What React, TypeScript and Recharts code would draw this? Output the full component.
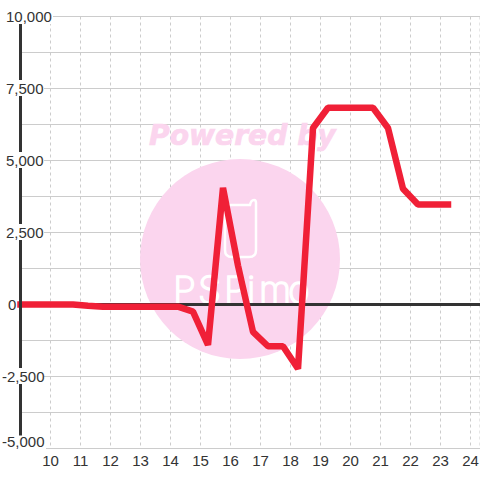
import { CartesianGrid, Line, LineChart, ReferenceLine, XAxis, YAxis } from "recharts";

const hours = [9, 9.25, 9.75, 10.25, 10.75, 11.25, 11.75, 12.25, 12.75, 13.25, 13.75, 14.25, 14.75, 15.25, 15.75, 16.25, 16.75, 17.25, 17.75, 18.25, 18.75, 19.25, 19.75, 20.25, 20.75, 21.25, 21.75, 22.25, 22.75, 23.25];
const values = [0, 0, 0, 0, 0, -40, -75, -75, -75, -75, -75, -75, -250, -1400, 4050, 1350, -950, -1450, -1450, -2230, 6130, 6830, 6830, 6830, 6830, 6130, 4020, 3470, 3470, 3470];

const xTicks = [10, 11, 12, 13, 14, 15, 16, 17, 18, 19, 20, 21, 22, 23, 24];
const yTicks = [-5000, -3750, -2500, -1250, 0, 1250, 2500, 3750, 5000, 6250, 7500, 8750, 10000];
const yLabels = [-5000, -2500, 0, 2500, 5000, 7500, 10000];

const rows = hours.map((hour, i) => ({ hour, value: values[i] }));

const TEXT = "#333333";
const WATERMARK = "#fbd5ee";
const FONT = "'Liberation Sans', Arial, sans-serif";

// y 軸ラベルは白い背景つきで軸線と罫線を隠す
function YTick({ y, payload }: any) {
  const v = payload.value;
  if (!yLabels.includes(v)) return null;
  const label = v.toLocaleString("en-US");
  const left = v < 0 ? 2 : v === 0 ? 8 : 6;
  const right = v === 10000 ? 53 : v === -5000 ? 46 : 44;
  const cy = v === -5000 ? y - 4.5 : y;
  return (
    <g>
      {v !== 0 && <rect x={0} y={cy - 8.5} width={right} height={16} fill="#fff" />}
      <text x={left} y={v === -5000 ? y - 1.5 : y + 5} fontSize={15} fill={TEXT} fontFamily={FONT}>
        {label}
      </text>
    </g>
  );
}

export default function App() {
  return (
    <div style={{ position: "absolute", left: 0, top: 0, width: 480, height: 480 }}>
      <LineChart
        width={480}
        height={480}
        data={rows}
        margin={{ top: 16.5, right: 0, bottom: 0, left: 0.5 }}
      >
        {/* watermark */}
        <circle cx={240} cy={259} r={100} fill={WATERMARK} />
        <text x={149} y={145} fontSize={28.2} fontWeight="bold" fontStyle="italic" fontFamily="'DejaVu Sans', sans-serif" fill={WATERMARK} stroke={WATERMARK} strokeWidth={0.7}>
          Powered by
        </text>
        <path
          d="M225 205 H250 Q251 200 254 200 Q256 200 256 203 V250 Q256 257 249 257 H232 Q225 257 225 250 Z"
          fill="none"
          stroke="#fff"
          strokeWidth={2.5}
        />
        <text x="173 198 224 247 259 288" y={303} fontSize={37} fontWeight={200} fontFamily="Inter, sans-serif" fill="#fff" stroke="#fff" strokeWidth={1.5}>
          PSPimo
        </text>

        <CartesianGrid stroke="#cccccc" strokeDasharray="" vertical={false} />
        <CartesianGrid stroke="#cccccc" strokeDasharray="3 3" horizontal={false} />
        <ReferenceLine y={0} stroke={TEXT} strokeWidth={3} />
        <XAxis
          dataKey="hour"
          type="number"
          domain={[9, 24.3167]}
          ticks={xTicks}
          interval={0}
          height={31.5}
          axisLine={false}
          tickLine={false}
          tick={{ fontSize: 15, fill: TEXT, fontFamily: FONT, dy: -1 }}
        />
        <YAxis
          domain={[-5000, 10000]}
          ticks={yTicks}
          interval={0}
          width={20}
          axisLine={{ stroke: TEXT, strokeWidth: 3 }}
          tickLine={false}
          tick={<YTick />}
        />
        <Line
          dataKey="value"
          type="linear"
          stroke="#f02037"
          strokeWidth={6.5}
          strokeLinecap="square"
          strokeLinejoin="bevel"
          dot={false}
          isAnimationActive={false}
        />
      </LineChart>
    </div>
  );
}
